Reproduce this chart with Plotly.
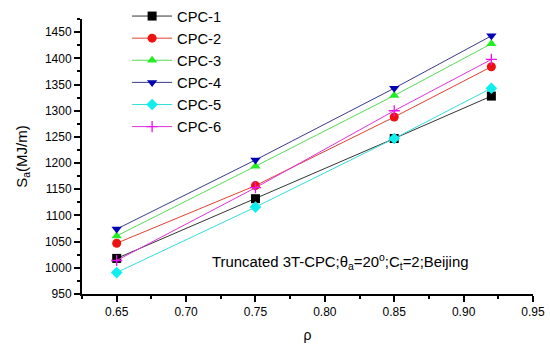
import plotly.graph_objects as go

rho = [0.65, 0.75, 0.85, 0.92]
series_names = ["CPC-1", "CPC-2", "CPC-3", "CPC-4", "CPC-5", "CPC-6"]
cpc1 = [1018, 1132, 1247, 1328]
cpc2 = [1047, 1157, 1288, 1384]
cpc3 = [1061, 1194, 1329, 1428]
cpc4 = [1074, 1206, 1343, 1443]
cpc5 = [991, 1116, 1247, 1343]
cpc6 = [1014, 1153, 1300, 1398]
x_ticks = [0.65, 0.70, 0.75, 0.80, 0.85, 0.90, 0.95]
y_ticks = [950, 1000, 1050, 1100, 1150, 1200, 1250, 1300, 1350, 1400, 1450]

values = [cpc1, cpc2, cpc3, cpc4, cpc5, cpc6]
line_colors = ["#333333", "#e04030", "#55dd55", "#3a3a8a", "#33dddd", "#dd33dd"]
marker_colors = ["#000000", "#ee1111", "#22ee22", "#0000b4", "#11eeee", "#ee11ee"]
symbols = ["square", "circle", "triangle-up", "triangle-down", "diamond", "cross-thin"]

fig = go.Figure()
for name, vals, lc, mc, sym in zip(series_names, values, line_colors, marker_colors, symbols):
    marker = dict(symbol=sym, size=9, color=mc, line=dict(width=0, color=mc))
    if sym == "cross-thin":
        marker = dict(symbol=sym, size=8, color=mc, line=dict(width=1.3, color=mc))
    fig.add_trace(go.Scatter(x=rho, y=vals, name=name, mode="lines+markers",
                             line=dict(color=lc, width=1), marker=marker))

fig.add_annotation(x=0.811, y=1011, xref="x", yref="y", showarrow=False,
                   text="Truncated 3T-CPC;θ<sub>a</sub>=20<sup>o</sup>;C<sub>t</sub>=2;Beijing",
                   font=dict(size=14.9, color="black"))

fig.update_layout(
    width=550, height=346,
    margin=dict(l=82, r=17, t=0, b=52),
    paper_bgcolor="white", plot_bgcolor="white",
    font=dict(family="Arial, Liberation Sans, sans-serif", color="black", size=12),
    legend=dict(x=0.1, y=1.0, xanchor="left", yanchor="top",
                bgcolor="rgba(0,0,0,0)", font=dict(size=14.7), itemwidth=40, tracegroupgap=0),
    xaxis=dict(range=[0.625, 0.95], tickvals=x_ticks, ticktext=[f"{v:.2f}" for v in x_ticks],
               automargin=False,
               showgrid=False, zeroline=False, showline=True, linecolor="black", linewidth=2,
               ticks="outside", ticklen=6, tickwidth=1.5, tickcolor="black",
               minor=dict(dtick=0.025, tick0=0.625, ticks="outside", ticklen=3, tickwidth=1.5, tickcolor="black"),
               title=dict(text="ρ", font=dict(size=14), standoff=12)),
    yaxis=dict(range=[950, 1475], domain=[0, 0.935], tickvals=y_ticks, automargin=False,
               showgrid=False, zeroline=False,
               showline=True, linecolor="black", linewidth=2,
               ticks="outside", ticklen=6, tickwidth=1.5, tickcolor="black",
               minor=dict(dtick=25, tick0=950, ticks="outside", ticklen=3, tickwidth=1.5, tickcolor="black"),
               title=dict(text="S<sub>a</sub>(MJ/m)", font=dict(size=15), standoff=14)),
)

fig.write_html("out.html", config={"displayModeBar": False},
               post_script="document.body.style.margin='0';")
